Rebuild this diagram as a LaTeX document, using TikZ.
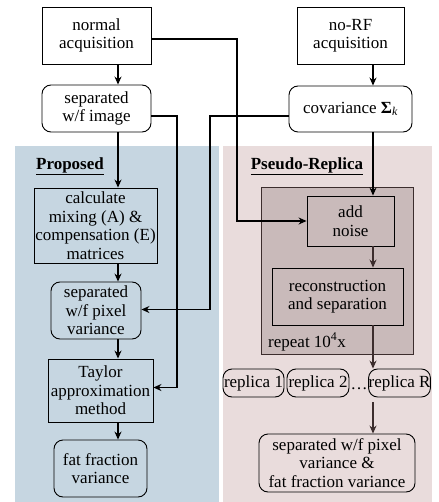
\documentclass[tikz,border=0pt]{standalone}
\usepackage{fontspec}
\setmainfont{Liberation Serif}
\usetikzlibrary{arrows.meta}
\definecolor{propblue}{RGB}{198,214,225}
\definecolor{replpink}{RGB}{233,220,220}
\definecolor{repfill}{RGB}{201,186,186}
\definecolor{repline}{RGB}{60,45,45}

\begin{document}
\begin{tikzpicture}[x=1pt, y=-1pt, > = {Stealth[length=8pt,width=7pt]},
	every node/.style={font=\rmfamily\fontsize{17}{18.5}\selectfont, align=center, inner sep=0pt},
	sqbox/.style={draw, line width=0.9pt},
	rndbox/.style={draw, line width=0.9pt, rounded corners=9pt},
	flow/.style={->, line width=1.2pt}]
	\useasboundingbox (0,0) rectangle (438,502);
	
	\fill[propblue] (15,146) rectangle (219,502); % proposed panel
	\fill[replpink] (223,146) rectangle (432,502); % pseudo-replica panel
	\draw[fill=repfill, draw=repline, line width=0.9pt] (261,187) rectangle (413,354); % repeat loop
	
	\node (prop) at (70,166) {\underline{\textbf{Proposed}}};
	\node (pseudo) at (307,166) {\underline{\textbf{Pseudo-Replica}}};
	
	% top row
	\node[sqbox, minimum width=109pt, minimum height=57pt] (norm) at (96.5,35.5) {normal\\acquisition};
	\node[sqbox, minimum width=107pt, minimum height=57pt] (norf) at (350.5,35.5) {no-RF\\acquisition};
	\node[rndbox, minimum width=109pt, minimum height=47pt] (sepimg) at (96.5,108.5) {separated\\w/f image};
	\node[rndbox, minimum width=123pt, minimum height=46pt] (cov) at (350.5,109) {covariance \textbf{Σ}\textsubscript{\textit{k}}};
	
	% proposed
	\node[sqbox, minimum width=123pt, minimum height=75pt] (calc) at (95.5,225.5) {calculate\\mixing (A) \&\\compensation (E)\\matrices};
	\node[rndbox, minimum width=90pt, minimum height=57pt] (sepvar) at (96,310.5) {separated\\w/f pixel\\variance};
	\node[sqbox, minimum width=105pt, minimum height=63pt] (taylor) at (100.5,390.5) {Taylor\\approximation\\method};
	\node[rndbox, minimum width=93pt, minimum height=57pt] (ffvar) at (100.5,468.5) {fat fraction\\variance};
	
	% pseudo-replica
	\node[sqbox, fill=repfill, minimum width=87pt, minimum height=50pt] (noise) at (350.5,221) {add\\noise};
	\node[sqbox, fill=repfill, minimum width=131pt, minimum height=57pt] (recon) at (337.5,296.5) {reconstruction\\and separation};
	\node[anchor=west] (rep) at (268,342) {repeat 10\textsuperscript{4}x};
	\node[rndbox, minimum width=61pt, minimum height=28pt] (rep1) at (253.5,383) {replica 1};
	\node[rndbox, minimum width=62pt, minimum height=28pt] (rep2) at (318,383) {replica 2};
	\node[anchor=base] (dots) at (359,389) {\dots};
	\node[rndbox, minimum width=61pt, minimum height=28pt] (repR) at (399.5,383) {replica R};
	\node[rndbox, minimum width=156pt, minimum height=58pt] (final) at (337,463) {separated w/f pixel\\variance \&\\fat fraction variance};
	
	\coordinate (colL) at (118,0);
	\coordinate (colR) at (373,0);
	\coordinate (bendA) at (237,39);
	\coordinate (bendB) at (177,116);
	\coordinate (bendC) at (210,116);
	
	% left column
	\draw[flow] (norm.south -| colL) -- (sepimg.north -| colL);
	\draw[flow] (sepimg.south -| colL) -- (calc.north -| colL);
	\draw[flow] (calc.south -| colL) -- (sepvar.north -| colL);
	\draw[flow] (sepvar.south -| colL) -- (taylor.north -| colL);
	\draw[flow] (taylor.south -| colL) -- (ffvar.north -| colL);
	
	% right column
	\draw[flow] (norf.south -| colR) -- (cov.north -| colR);
	\draw[flow] (cov.south -| colR) -- (noise.north -| colR);
	\draw[flow, repline] (noise.south -| colR) -- (recon.north -| colR);
	\draw[flow, repline] (recon.south -| colR) -- (repR.north -| colR);
	\draw[flow, repline, shorten <=5pt] (repR.south -| colR) -- (final.north -| colR);
	
	% crossing lines
	\draw[flow] (norm.east |- bendA) -- (bendA) |- (noise.west);
	\draw[flow] (sepimg.east |- bendB) -- (bendB) |- ([yshift=3pt]taylor.east);
	\draw[flow] (cov.west |- bendC) -- (bendC) |- ([yshift=1pt]sepvar.east);
\end{tikzpicture}
\end{document}
